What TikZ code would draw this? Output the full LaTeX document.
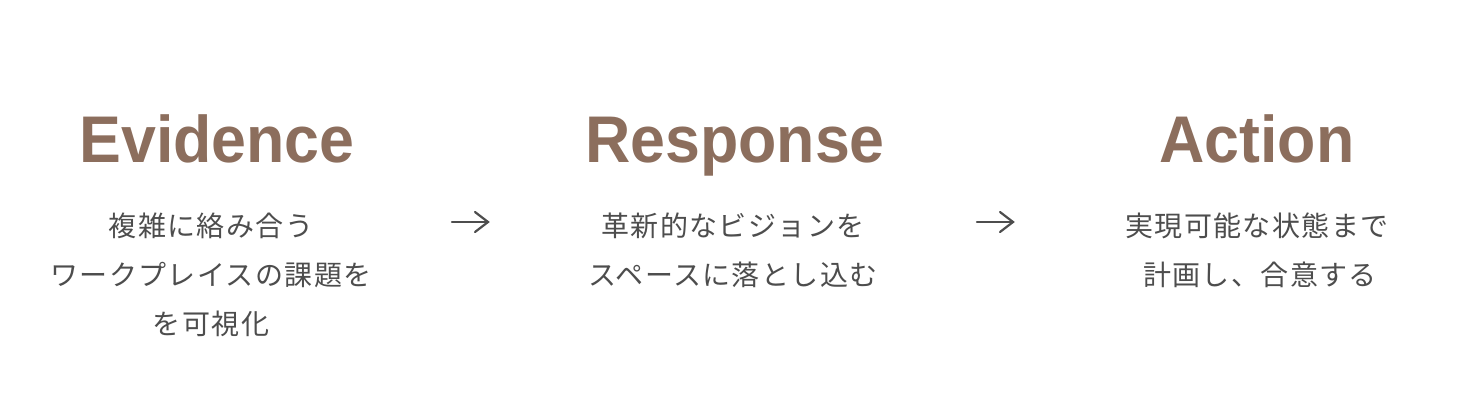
\documentclass[tikz,border=0pt]{standalone}
\usepackage{fontspec}
\newfontfamily\titlefont[FakeStretch=0.95]{Liberation Sans}
\newfontfamily\jpfont[LetterSpace=5]{Noto Sans CJK JP}
\definecolor{titlebrown}{HTML}{8C6E5D}
\definecolor{bodygray}{HTML}{4D4D4D}
\begin{document}
\begin{tikzpicture}[x=1pt,y=-1pt,
  title/.style={inner sep=0pt,anchor=base,text=titlebrown,font=\titlefont\bfseries\fontsize{66}{70}\selectfont},
  body/.style={inner sep=0pt,anchor=base,text=bodygray,font=\jpfont\fontsize{28}{30}\selectfont},
  flow/.style={draw=bodygray,line width=2.2pt,line cap=round,line join=miter}]
\useasboundingbox[fill=white] (0,0) rectangle (1468,420);
% Titles
\node[title] (t1) at (217,162) {Evidence};
\node[title] (t2) at (735,162) {Response};
\node[title] (t3) at (1257,162) {Action};
% Body texts
\node[body] (e1) at (211,236) {複雑に絡み合う};
\node[body] (e2) at (211,285) {ワークプレイスの課題を};
\node[body] (e3) at (211,334) {を可視化};
\node[body] (r1) at (733,236) {革新的なビジョンを};
\node[body] (r2) at (733,285) {スペースに落とし込む};
\node[body] (a1) at (1257,236) {実現可能な状態まで};
\node[body] (a2) at (1260,285) {計画し、合意する};
% Arrows
\coordinate (p1s) at (452,222);
\coordinate (p1e) at (488,222);
\coordinate (p1a) at (475,212);
\coordinate (p1b) at (475,232);
\draw[flow] (p1s) -- (p1e);
\draw[flow] (p1a) -- (p1e) -- (p1b);
\coordinate (p2s) at (977,222);
\coordinate (p2e) at (1013,222);
\coordinate (p2a) at (1000,212);
\coordinate (p2b) at (1000,232);
\draw[flow] (p2s) -- (p2e);
\draw[flow] (p2a) -- (p2e) -- (p2b);
\end{tikzpicture}
\end{document}
